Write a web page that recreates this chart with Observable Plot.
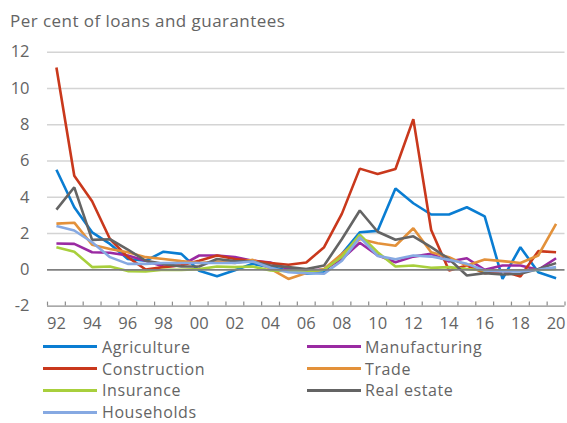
<!DOCTYPE html>
<html>
<head>
<meta charset="utf-8">
<script src="https://cdn.jsdelivr.net/npm/d3@7"></script>
<script src="https://cdn.jsdelivr.net/npm/@observablehq/plot@0.6"></script>
<style>
  body { margin: 0; background: #fff; }
  #wrap { position: relative; width: 567px; height: 423px; font-family: "Open Sans", sans-serif; color: #646464; overflow: hidden; }
  #title { position: absolute; left: 10px; top: 11px; font-size: 17px; line-height: 20px; letter-spacing: 0.45px; white-space: nowrap; }
  #chart { position: absolute; left: 0; top: 36px; }
  .leg { position: absolute; font-size: 16px; line-height: 12px; letter-spacing: 0.6px; white-space: nowrap; }
  .sw { position: absolute; height: 3px; width: 54px; }
</style>
</head>
<body>
<div id="wrap">
  <div id="title">Per cent of loans and guarantees</div>
  <div id="chart"></div>
  <div id="legend"></div>
</div>
<script>
const years = d3.range(1992, 2021);
const seriesNames = ["Agriculture", "Manufacturing", "Construction", "Trade", "Insurance", "Real estate", "Households"];
const seriesColors = ["#0a7dd2", "#9a2aa2", "#c9381c", "#e3913a", "#a8cf3c", "#646464", "#86a9e2"];

const agriculture = [5.52, 3.45, 2.07, 1.43, 0.6, 0.5, 1.0, 0.88, -0.05, -0.35, -0.02, 0.33, 0.15, -0.04, -0.22, -0.13, 0.88, 2.07, 2.15, 4.48, 3.67, 3.05, 3.05, 3.45, 2.95, -0.5, 1.25, -0.13, -0.46];
const manufacturing = [1.45, 1.43, 0.97, 0.94, 0.79, 0.5, 0.18, 0.24, 0.79, 0.79, 0.7, 0.5, 0.4, 0.05, -0.04, 0.02, 0.6, 1.49, 0.8, 0.42, 0.73, 0.88, 0.46, 0.64, 0.0, 0.24, 0.24, 0.0, 0.64];
const construction = [11.16, 5.19, 3.78, 1.7, 0.7, 0.02, 0.15, 0.25, 0.5, 0.79, 0.6, 0.5, 0.37, 0.28, 0.4, 1.25, 3.1, 5.58, 5.28, 5.56, 8.31, 2.2, -0.04, 0.24, -0.18, -0.07, -0.37, 1.03, 0.97];
const trade = [2.55, 2.6, 1.38, 1.15, 0.97, 0.7, 0.6, 0.48, 0.38, 0.46, 0.38, 0.55, 0.05, -0.5, -0.18, 0.05, 0.88, 1.7, 1.47, 1.33, 2.29, 0.97, 0.7, 0.24, 0.57, 0.48, 0.38, 0.79, 2.53];
const insurance = [1.25, 1.0, 0.15, 0.18, -0.07, -0.09, 0.0, 0.0, 0.04, 0.18, 0.15, 0.18, -0.04, -0.07, -0.09, 0.0, 0.73, 1.94, 0.97, 0.18, 0.24, 0.11, 0.15, 0.05, -0.04, -0.04, -0.04, 0.0, 0.05];
const realEstate = [3.32, 4.55, 1.65, 1.69, 1.12, 0.5, 0.33, 0.18, 0.18, 0.6, 0.48, 0.46, 0.24, 0.15, 0.04, 0.24, 1.7, 3.27, 2.1, 1.66, 1.85, 1.25, 0.6, -0.31, -0.18, -0.26, -0.22, 0.05, 0.37];
const households = [2.42, 2.17, 1.52, 0.7, 0.33, 0.33, 0.38, 0.38, 0.38, 0.38, 0.38, 0.46, 0.11, -0.13, -0.18, -0.22, 0.5, 1.8, 0.77, 0.58, 0.79, 0.73, 0.55, 0.33, -0.04, -0.09, -0.09, 0.0, 0.15];

const yTicks = [-2, 0, 2, 4, 6, 8, 10, 12];
const xLabelYears = d3.range(1992, 2021, 2);

const allSeries = [agriculture, manufacturing, construction, trade, insurance, realEstate, households];
const data = [];
allSeries.forEach((vals, i) => {
  vals.forEach((v, j) => data.push({series: seriesNames[i], year: years[j], value: v}));
});
const bounds = d3.range(1991.5, 2021, 1);

const chart = Plot.plot({
  width: 567,
  height: 298,
  marginLeft: 47,
  marginRight: 2.5,
  marginTop: 15.7,
  marginBottom: 28.4,
  x: {domain: [1991.5, 2020.5], axis: null},
  y: {domain: [-2, 12], axis: null},
  color: {domain: seriesNames, range: seriesColors},
  style: {fontFamily: "Open Sans, sans-serif", fontSize: "16px", color: "#646464", background: "white"},
  marks: [
    Plot.ruleY(yTicks.filter(d => d > 0), {stroke: "#d4d4d4", strokeWidth: 1.6}),
    Plot.ruleY([-2], {stroke: "#8c8c8c", strokeWidth: 1.2}),
    Plot.ruleX(bounds, {y1: -2, y2: -1.78, stroke: "#8c8c8c", strokeWidth: 1.2}),
    Plot.text(yTicks, {x: 1991.5, y: d => d, text: d => String(d), dx: -18, textAnchor: "end", fill: "#646464", fontSize: 16.5}),
    Plot.text(xLabelYears, {x: d => d, y: -2, text: d => String(d).slice(2), dy: 18, fill: "#646464", fontSize: 16.5}),
    Plot.line(data, {x: "year", y: "value", z: "series", stroke: "series", strokeWidth: 2.6, strokeLinejoin: "miter", strokeLinecap: "butt"}),
    Plot.ruleY([0], {stroke: "#808080", strokeWidth: 1.6})
  ]
});
document.getElementById("chart").appendChild(chart);

// legend
const legend = document.getElementById("legend");
const rowsY = [346.5, 368.5, 390.3, 412];
const colSwatch = [43, 307];
const colText = [102, 365];
seriesNames.forEach((name, i) => {
  const col = i % 2, row = Math.floor(i / 2);
  const sw = document.createElement("div");
  sw.className = "sw";
  sw.style.left = colSwatch[col] + "px";
  sw.style.top = (rowsY[row] - 1.5) + "px";
  sw.style.background = seriesColors[i];
  legend.appendChild(sw);
  const t = document.createElement("div");
  t.className = "leg";
  t.style.left = colText[col] + "px";
  t.style.top = (rowsY[row] - 6) + "px";
  t.textContent = name;
  legend.appendChild(t);
});
</script>
</body>
</html>
